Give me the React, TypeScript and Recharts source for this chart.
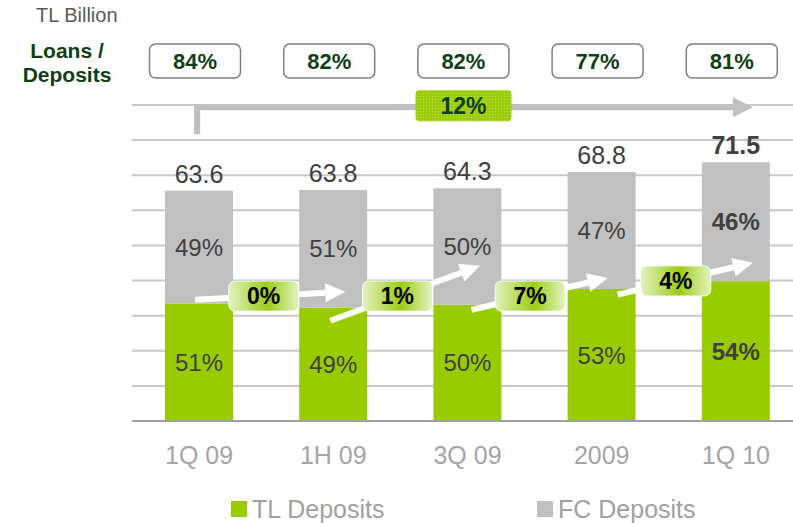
import React from "react";
import {
  BarChart,
  Bar,
  XAxis,
  YAxis,
  CartesianGrid,
  LabelList,
  ReferenceLine,
} from "recharts";

const CATEGORIES = ["1Q 09", "1H 09", "3Q 09", "2009", "1Q 10"];
const TOTAL_DEPOSITS = [63.6, 63.8, 64.3, 68.8, 71.5];
const TL_SHARE = [51, 49, 50, 53, 54];
const FC_SHARE = [49, 51, 50, 47, 46];
const LOANS_TO_DEPOSITS = [84, 82, 82, 77, 81];
const PERIOD_GROWTH = [0, 1, 7, 4];
const TOTAL_GROWTH = 12;
const GRID_TICKS = [0, 9.7, 19.4, 29.1, 38.8, 48.5, 58.2, 67.9, 77.6, 87.3];

const data = CATEGORIES.map((name, i) => {
  const tl = (TOTAL_DEPOSITS[i] * TL_SHARE[i]) / 100;
  return {
    name,
    tl,
    fc: TOTAL_DEPOSITS[i] - tl,
    total: TOTAL_DEPOSITS[i],
    tlShare: TL_SHARE[i],
    fcShare: FC_SHARE[i],
    ltd: LOANS_TO_DEPOSITS[i],
  };
});

// decoration layout: arrow level in axis units, slope px/px, pixel nudges
const ARROW_LAYOUT = [
  { level: 34.5, slope: -0.053, dx: -2.5, start: -4, end: 12 },
  { level: 34.5, slope: -0.367, dx: -3, start: -3, end: 12.5 },
  { level: 34.5, slope: -0.235, dx: -4.5, start: 4, end: 6 },
  { level: 38.7, slope: -0.237, dx: 7, start: 16, end: 17 },
];
const BRACKET_LEVEL = 86.7;

const GREEN = "#99cc00";
const GREY = "#c0c0c0";
const DARK_GREEN = "#0f3f12";
const LAST = CATEGORIES.length - 1;

const boxOf = (p: any) => p.viewBox ?? p;

const shareLabel = (p: any) => {
  const { x, y, width, height } = boxOf(p);
  return (
    <text
      x={x + width / 2}
      y={y + height / 2}
      textAnchor="middle"
      dominantBaseline="central"
      fontSize={24}
      fontWeight={p.index === LAST ? 700 : 400}
      fill="#404040"
    >
      {p.value}%
    </text>
  );
};

const totalLabel = (p: any) => {
  const { x, y, width } = boxOf(p);
  return (
    <text
      x={x + width / 2}
      y={y - 17}
      textAnchor="middle"
      dominantBaseline="central"
      fontSize={25}
      fontWeight={p.index === LAST ? 700 : 400}
      fill="#404040"
    >
      {p.value}
    </text>
  );
};

const ltdLabel = (p: any) => {
  const { x, width } = boxOf(p);
  const cx = x + width / 2 - 4;
  return (
    <g>
      <rect
        x={cx - 45.5}
        y={44}
        width={91}
        height={34}
        rx={6}
        fill="#fff"
        stroke="#7f7f7f"
        strokeWidth={1.5}
      />
      <text
        x={cx}
        y={61}
        textAnchor="middle"
        dominantBaseline="central"
        fontSize={22}
        fontWeight={700}
        fill={DARK_GREEN}
      >
        {p.value}%
      </text>
    </g>
  );
};

const GrowthArrow = (p: any) => {
  const { x1, y1, x2, growth, layout, gid } = p;
  const { slope, dx, start, end } = layout;
  const bx = (x1 + x2) / 2 + dx;
  const by = y1;
  const yAt = (x: number) => by + slope * (x - bx);
  const sx = x1 + start;
  const tx = x2 + end;
  const ty = yAt(tx);
  const n = Math.sqrt(1 + slope * slope);
  const ux = 1 / n;
  const uy = slope / n;
  const bxh = tx - 20 * ux;
  const byh = ty - 20 * uy;
  return (
    <g>
      <defs>
        <linearGradient id={gid} x1="0" y1="0" x2="1" y2="0">
          <stop offset="0%" stopColor="#e3f2c2" />
          <stop offset="55%" stopColor="#9ccc12" />
          <stop offset="100%" stopColor="#e3f2c2" />
        </linearGradient>
      </defs>
      <line x1={sx} y1={yAt(sx)} x2={bxh} y2={byh} stroke="#fff" strokeWidth={6} />
      <polygon
        points={`${tx},${ty} ${bxh + 9.5 * uy},${byh - 9.5 * ux} ${bxh - 9.5 * uy},${byh + 9.5 * ux}`}
        fill="#fff"
      />
      <rect
        x={bx - 35}
        y={by - 15}
        width={70}
        height={30}
        rx={6}
        fill={`url(#${gid})`}
        stroke="rgba(255,255,255,0.8)"
        strokeWidth={1}
      />
      <text
        x={bx}
        y={by}
        textAnchor="middle"
        dominantBaseline="central"
        fontSize={23}
        fontWeight={700}
        fill="#000"
      >
        {growth}%
      </text>
    </g>
  );
};

const TrendBracket = (p: any) => {
  const { x1, y1, x2 } = p;
  const y = y1;
  const mx = (x1 + x2) / 2 - 4;
  return (
    <g>
      <defs>
        <pattern id="dots" width="3" height="3" patternUnits="userSpaceOnUse">
          <rect width="3" height="3" fill="#9ccc0a" />
          <rect width="1" height="1" fill="rgba(255,255,255,0.35)" />
        </pattern>
      </defs>
      <rect x={x1 - 5} y={y - 3} width={6} height={30} fill={GREY} />
      <rect x={x1 - 5} y={y - 3} width={x2 - x1 + 2} height={6} fill={GREY} />
      <polygon
        points={`${x2 - 3},${y - 10} ${x2 + 17},${y} ${x2 - 3},${y + 10}`}
        fill={GREY}
      />
      <rect x={mx - 48} y={y - 17} width={96} height={31} rx={4} fill="url(#dots)" />
      <text
        x={mx}
        y={y - 1.5}
        textAnchor="middle"
        dominantBaseline="central"
        fontSize={23}
        fontWeight={700}
        fill={DARK_GREEN}
      >
        {TOTAL_GROWTH}%
      </text>
    </g>
  );
};

const LegendItem = ({ color, label, left }: any) => (
  <div
    style={{
      position: "absolute",
      left,
      top: 494,
      height: 30,
      display: "flex",
      alignItems: "center",
      fontSize: 25,
      color: "#a0a0a0",
    }}
  >
    <span style={{ width: 16, height: 16, background: color, marginRight: 5 }} />
    {label}
  </div>
);

const sideTitle: React.CSSProperties = {
  position: "absolute",
  left: 10,
  width: 114,
  textAlign: "center",
  fontSize: 21,
  lineHeight: "24px",
  height: 24,
  fontWeight: 700,
  color: DARK_GREEN,
};

export default function App() {
  return (
    <div
      style={{
        position: "fixed",
        left: 0,
        top: 0,
        width: 793,
        height: 523,
        overflow: "hidden",
        background: "#fff",
        fontFamily: '"Liberation Sans", Arial, sans-serif',
      }}
    >
      <div
        style={{
          position: "absolute",
          left: 36,
          top: 4,
          fontSize: 20,
          color: "#595959",
        }}
      >
        TL Billion
      </div>
      <div style={{ ...sideTitle, top: 39 }}>Loans /</div>
      <div style={{ ...sideTitle, top: 63 }}>Deposits</div>
      <div style={{ position: "absolute", left: 0, top: 0 }}>
        <BarChart
          width={803}
          height={523}
          data={data}
          margin={{ top: 105, right: 0, bottom: 42, left: 132 }}
          barSize={68}
        >
          <CartesianGrid vertical={false} stroke="#c8c8c8" strokeWidth={2} />
          <YAxis hide width={0} domain={[0, 87.3]} ticks={GRID_TICKS} />
          <XAxis
            dataKey="name"
            height={60}
            interval={0}
            tickLine={false}
            tickMargin={19}
            axisLine={{ stroke: "#a0a0a0", strokeWidth: 2 }}
            tick={{ fontSize: 25, fill: "#a5a5a5" }}
          />
          <Bar dataKey="tl" stackId="d" fill={GREEN} isAnimationActive={false}>
            <LabelList dataKey="tlShare" content={shareLabel} />
          </Bar>
          <Bar dataKey="fc" stackId="d" fill={GREY} isAnimationActive={false}>
            <LabelList dataKey="fcShare" content={shareLabel} />
            <LabelList dataKey="total" content={totalLabel} />
            <LabelList dataKey="ltd" content={ltdLabel} />
          </Bar>
          {PERIOD_GROWTH.map((g, i) => (
            <ReferenceLine
              key={i}
              segment={[
                { x: CATEGORIES[i], y: ARROW_LAYOUT[i].level },
                { x: CATEGORIES[i + 1], y: ARROW_LAYOUT[i].level },
              ]}
              shape={(p: any) => (
                <GrowthArrow
                  {...p}
                  growth={g}
                  layout={ARROW_LAYOUT[i]}
                  gid={`grow${i}`}
                />
              )}
            />
          ))}
          <ReferenceLine
            segment={[
              { x: CATEGORIES[0], y: BRACKET_LEVEL },
              { x: CATEGORIES[LAST], y: BRACKET_LEVEL },
            ]}
            shape={(p: any) => <TrendBracket {...p} />}
          />
        </BarChart>
      </div>
      <LegendItem color={GREEN} label="TL Deposits" left={231} />
      <LegendItem color={GREY} label="FC Deposits" left={537} />
    </div>
  );
}
